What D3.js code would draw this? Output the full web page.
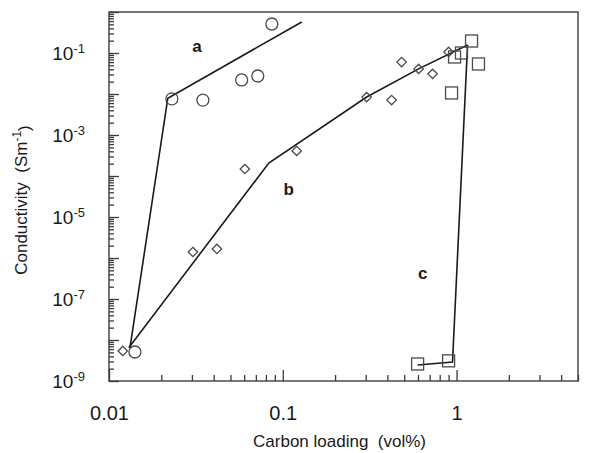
<!DOCTYPE html>
<html>
<head>
<meta charset="utf-8">
<script src="https://cdn.jsdelivr.net/npm/d3@7"></script>
<style>
  body { margin: 0; background: #fff; }
  text { font-family: "Liberation Sans", Arial, sans-serif; fill: #1a1a1a; }
</style>
</head>
<body>
<div id="chart"></div>
<script>
// Data: [carbon loading (vol%), conductivity (S/m)]
const pointsA = [[0.0141, 5.1e-9], [0.023, 7.6e-3], [0.0347, 7.1e-3], [0.058, 0.022],
                 [0.0718, 0.0275], [0.0865, 0.51]];
const pointsB = [[0.0120, 5.4e-9], [0.0304, 1.4e-6], [0.0418, 1.66e-6], [0.0605, 1.48e-4],
                 [0.1203, 4.1e-4], [0.304, 8.4e-3], [0.423, 7.1e-3], [0.483, 0.060],
                 [0.605, 0.041], [0.728, 0.031], [0.900, 0.106]];
const pointsC = [[0.597, 2.6e-9], [0.900, 3.1e-9], [0.936, 0.0106], [0.974, 0.080],
                 [1.068, 0.10], [1.22, 0.196], [1.337, 0.054]];

// fitted lines
const fitA = [[0.0132, 6.4e-9], [0.0218, 7.9e-3], [0.1286, 0.57]];
const fitB = [[0.0130, 6.5e-9], [0.0831, 2.07e-4], [0.304, 8.45e-3], [0.605, 0.041], [1.157, 0.157]];
const fitC = [[0.597, 2.45e-9], [0.948, 2.9e-9], [1.157, 0.157]];

// curve labels: [letter, x, y of baseline]
const curveLabels = [["a", 0.0321, 0.105], ["b", 0.108, 3.5e-5], ["c", 0.638, 3.1e-7]];

const xDomain = [0.01, 5];
const yDomain = [1e-9, 1];
const xLabelTicks = [0.01, 0.1, 1];
const yMajorTicks = d3.range(-9, 1).map(e => Math.pow(10, e));
const yLabelExps = [-9, -7, -5, -3, -1];

const width = 590, height = 453;
const plot = {left: 109, right: 578, top: 12, bottom: 381};

/**
 * isDecade() tells whether a tick value is a power of ten.
 */
function isDecade(d) {
  const l = Math.log10(d);
  return Math.abs(l - Math.round(l)) < 1e-6;
}

const svg = d3.select("#chart")
  .append("svg")
  .attr("width", width)
  .attr("height", height);

svg.append("rect")
  .attr("width", width)
  .attr("height", height)
  .attr("fill", "#fff");

const x = d3.scaleLog().domain(xDomain).range([plot.left, plot.right]);
const y = d3.scaleLog().domain(yDomain).range([plot.bottom, plot.top]);

// frame
svg.append("rect")
  .attr("x", plot.left)
  .attr("y", plot.top)
  .attr("width", plot.right - plot.left)
  .attr("height", plot.bottom - plot.top)
  .attr("fill", "none")
  .attr("stroke", "#4a4a4a")
  .attr("stroke-width", 1.5);

// minor ticks, pointing into the plot
const xMinor = x.ticks().filter(d => !isDecade(d));
const yMinor = y.ticks().filter(d => !isDecade(d));

function styleAxis(g) {
  g.select(".domain").remove();
  g.selectAll(".tick line").attr("stroke", "#3a3a3a").attr("stroke-width", 1.3);
}

svg.append("g")
  .attr("transform", `translate(0,${plot.bottom})`)
  .call(d3.axisBottom(x).tickValues(xMinor).tickSize(-6).tickFormat(""))
  .call(styleAxis);

svg.append("g")
  .attr("transform", `translate(${plot.left},0)`)
  .call(d3.axisLeft(y).tickValues(yMinor).tickSize(-5).tickFormat(""))
  .call(styleAxis);

// major ticks with labels
const xAxis = svg.append("g")
  .attr("transform", `translate(0,${plot.bottom})`)
  .call(d3.axisBottom(x).tickValues(xLabelTicks).tickSize(-11).tickFormat(d => String(d)))
  .call(styleAxis);

xAxis.selectAll(".tick text")
  .attr("y", 39)
  .attr("dy", null)
  .attr("font-size", 20)
  .attr("fill", "#1a1a1a");

const yAxis = svg.append("g")
  .attr("transform", `translate(${plot.left},0)`)
  .call(d3.axisLeft(y).tickValues(yMajorTicks).tickSize(-10).tickFormat(""))
  .call(styleAxis);

yAxis.selectAll(".tick")
  .each(function(d) {
    const e = Math.round(Math.log10(d));
    if (!yLabelExps.includes(e)) return;
    const t = d3.select(this).select("text")
      .attr("x", -24)
      .attr("dy", "0.36em")
      .attr("font-size", 19)
      .attr("fill", "#1a1a1a");
    t.append("tspan").text("10");
    t.append("tspan").attr("dy", "-0.55em").attr("font-size", 13).text(String(e));
  });

// axis titles
svg.append("text")
  .attr("x", (plot.left + plot.right) / 2 - 4)
  .attr("y", 447)
  .attr("text-anchor", "middle")
  .attr("font-size", 17)
  .attr("xml:space", "preserve")
  .text("Carbon loading  (vol%)");

const yTitle = svg.append("text")
  .attr("transform", "translate(27,200) rotate(-90)")
  .attr("text-anchor", "middle")
  .attr("font-size", 17)
  .attr("xml:space", "preserve");
yTitle.append("tspan").text("Conductivity  (Sm");
yTitle.append("tspan").attr("dy", "-0.5em").attr("font-size", 12).text("-1");
yTitle.append("tspan").attr("dy", "0.5em").text(")");

// fitted lines
const line = d3.line().x(d => x(d[0])).y(d => y(d[1]));
svg.selectAll("path.fit")
  .data([fitA, fitB, fitC])
  .enter()
  .append("path")
  .attr("class", "fit")
  .attr("d", line)
  .attr("fill", "none")
  .attr("stroke", "#1a1a1a")
  .attr("stroke-width", 1.6);

// markers
svg.selectAll("circle.pa")
  .data(pointsA)
  .enter()
  .append("circle")
  .attr("class", "pa")
  .attr("cx", d => x(d[0]))
  .attr("cy", d => y(d[1]))
  .attr("r", 6)
  .attr("fill", "none")
  .attr("stroke", "#4a4a4a")
  .attr("stroke-width", 1.3);

svg.selectAll("path.pb")
  .data(pointsB)
  .enter()
  .append("path")
  .attr("class", "pb")
  .attr("d", d3.symbol().type(d3.symbolDiamond2).size(56))
  .attr("transform", d => `translate(${x(d[0])},${y(d[1])})`)
  .attr("fill", "none")
  .attr("stroke", "#4a4a4a")
  .attr("stroke-width", 1.3);

svg.selectAll("rect.pc")
  .data(pointsC)
  .enter()
  .append("rect")
  .attr("class", "pc")
  .attr("x", d => x(d[0]) - 6)
  .attr("y", d => y(d[1]) - 6)
  .attr("width", 12)
  .attr("height", 12)
  .attr("fill", "none")
  .attr("stroke", "#4a4a4a")
  .attr("stroke-width", 1.3);

// curve letters
svg.selectAll("text.curve")
  .data(curveLabels)
  .enter()
  .append("text")
  .attr("class", "curve")
  .attr("x", d => x(d[1]))
  .attr("y", d => y(d[2]))
  .attr("text-anchor", "middle")
  .attr("font-size", 17)
  .attr("font-weight", "bold")
  .text(d => d[0]);
</script>
</body>
</html>
